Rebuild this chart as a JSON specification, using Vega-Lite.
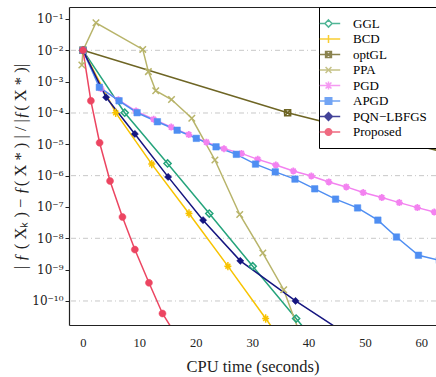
{
  "$schema": "https://vega.github.io/schema/vega-lite/v6.json",
  "autosize": "none",
  "width": 367,
  "height": 318,
  "padding": {"left": 69, "top": 7, "right": 0, "bottom": 52},
  "background": "white",
  "config": {
    "view": {"stroke": null},
    "font": "Liberation Serif"
  },
  "datasets": {
    "series": [
      {"m": "GGL", "t": 0, "v": 1e-2},
      {"m": "GGL", "t": 7.4, "v": 1.02e-4},
      {"m": "GGL", "t": 15.0, "v": 2.45e-6},
      {"m": "GGL", "t": 22.4, "v": 6.17e-8},
      {"m": "GGL", "t": 30.1, "v": 1.29e-9},
      {"m": "GGL", "t": 37.8, "v": 2.75e-11},
      {"m": "GGL", "t": 45.4, "v": 6.31e-13},
      {"m": "BCD", "t": 0, "v": 1e-2},
      {"m": "BCD", "t": 5.8, "v": 1.02e-4},
      {"m": "BCD", "t": 12.2, "v": 2.34e-6},
      {"m": "BCD", "t": 18.8, "v": 6.17e-8},
      {"m": "BCD", "t": 25.7, "v": 1.29e-9},
      {"m": "BCD", "t": 32.4, "v": 2.75e-11},
      {"m": "BCD", "t": 39.0, "v": 6.31e-13},
      {"m": "optGL", "t": 0, "v": 1e-2},
      {"m": "optGL", "t": 36.3, "v": 1.02e-4},
      {"m": "optGL", "t": 72, "v": 2.45e-6},
      {"m": "PPA", "t": -0.2, "v": 3.39e-3},
      {"m": "PPA", "t": 0, "v": 1e-2},
      {"m": "PPA", "t": 2.3, "v": 7.59e-2},
      {"m": "PPA", "t": 10.6, "v": 1.07e-2},
      {"m": "PPA", "t": 11.6, "v": 2.09e-3},
      {"m": "PPA", "t": 12.9, "v": 5.13e-4},
      {"m": "PPA", "t": 15.7, "v": 2.69e-4},
      {"m": "PPA", "t": 19.3, "v": 6.76e-5},
      {"m": "PPA", "t": 23.4, "v": 3.16e-6},
      {"m": "PPA", "t": 27.8, "v": 5.75e-8},
      {"m": "PPA", "t": 31.9, "v": 3.39e-9},
      {"m": "PPA", "t": 35.6, "v": 2.29e-10},
      {"m": "PPA", "t": 39.5, "v": 2.82e-12},
      {"m": "PGD", "t": 0, "v": 1e-2},
      {"m": "PGD", "t": 3.17, "v": 6.03e-4},
      {"m": "PGD", "t": 6.29, "v": 2.63e-4},
      {"m": "PGD", "t": 9.41, "v": 1.15e-4},
      {"m": "PGD", "t": 12.53, "v": 6.31e-5},
      {"m": "PGD", "t": 15.65, "v": 3.55e-5},
      {"m": "PGD", "t": 18.77, "v": 2.04e-5},
      {"m": "PGD", "t": 21.89, "v": 1.17e-5},
      {"m": "PGD", "t": 25.01, "v": 7.24e-6},
      {"m": "PGD", "t": 28.1, "v": 5.13e-6},
      {"m": "PGD", "t": 31.0, "v": 3.31e-6},
      {"m": "PGD", "t": 34.2, "v": 2.19e-6},
      {"m": "PGD", "t": 37.3, "v": 1.41e-6},
      {"m": "PGD", "t": 40.5, "v": 9.77e-7},
      {"m": "PGD", "t": 43.6, "v": 6.31e-7},
      {"m": "PGD", "t": 46.7, "v": 4.37e-7},
      {"m": "PGD", "t": 49.7, "v": 2.88e-7},
      {"m": "PGD", "t": 53.0, "v": 2.00e-7},
      {"m": "PGD", "t": 56.1, "v": 1.38e-7},
      {"m": "PGD", "t": 59.3, "v": 9.55e-8},
      {"m": "PGD", "t": 62.3, "v": 6.92e-8},
      {"m": "PGD", "t": 65.4, "v": 4.90e-8},
      {"m": "APGD", "t": 0, "v": 1e-2},
      {"m": "APGD", "t": 2.9, "v": 6.61e-4},
      {"m": "APGD", "t": 6.4, "v": 2.45e-4},
      {"m": "APGD", "t": 9.6, "v": 1.02e-4},
      {"m": "APGD", "t": 13.2, "v": 5.25e-5},
      {"m": "APGD", "t": 16.7, "v": 2.82e-5},
      {"m": "APGD", "t": 20.1, "v": 1.55e-5},
      {"m": "APGD", "t": 23.6, "v": 8.32e-6},
      {"m": "APGD", "t": 27.2, "v": 4.79e-6},
      {"m": "APGD", "t": 30.6, "v": 2.34e-6},
      {"m": "APGD", "t": 34.1, "v": 1.32e-6},
      {"m": "APGD", "t": 37.6, "v": 7.76e-7},
      {"m": "APGD", "t": 41.1, "v": 3.80e-7},
      {"m": "APGD", "t": 44.8, "v": 1.78e-7},
      {"m": "APGD", "t": 48.7, "v": 9.33e-8},
      {"m": "APGD", "t": 52.3, "v": 3.80e-8},
      {"m": "APGD", "t": 55.6, "v": 1.10e-8},
      {"m": "APGD", "t": 59.5, "v": 2.88e-9},
      {"m": "APGD", "t": 63.2, "v": 2.00e-9},
      {"m": "PQN−LBFGS", "t": 0, "v": 1e-2},
      {"m": "PQN−LBFGS", "t": 4.1, "v": 3.16e-4},
      {"m": "PQN−LBFGS", "t": 9.2, "v": 2.14e-5},
      {"m": "PQN−LBFGS", "t": 15.1, "v": 9.12e-7},
      {"m": "PQN−LBFGS", "t": 21.3, "v": 3.80e-8},
      {"m": "PQN−LBFGS", "t": 27.9, "v": 1.91e-9},
      {"m": "PQN−LBFGS", "t": 37.7, "v": 1.00e-10},
      {"m": "PQN−LBFGS", "t": 47.5, "v": 7.08e-12},
      {"m": "Proposed", "t": 0, "v": 1e-2},
      {"m": "Proposed", "t": 1.4, "v": 2.45e-4},
      {"m": "Proposed", "t": 2.95, "v": 1.12e-5},
      {"m": "Proposed", "t": 4.8, "v": 6.76e-7},
      {"m": "Proposed", "t": 7.0, "v": 4.79e-8},
      {"m": "Proposed", "t": 9.2, "v": 4.37e-9},
      {"m": "Proposed", "t": 11.7, "v": 3.80e-10},
      {"m": "Proposed", "t": 14.1, "v": 3.98e-11},
      {"m": "Proposed", "t": 16.5, "v": 8.13e-12}
    ],
    "grid": [
      {"v": 1e-2}, {"v": 1e-4}, {"v": 1e-6}, {"v": 1e-8}, {"v": 1e-10}
    ]
  },
  "resolve": {"axis": {"x": "independent"}},
  "layer": [
    {
      "data": {"name": "grid"},
      "mark": {"type": "rule", "color": "#c8c8c8", "strokeWidth": 1, "strokeDash": [5, 3, 1, 3]},
      "encoding": {
        "y": {"field": "v", "type": "quantitative",
          "scale": {"type": "log", "domain": [1.71e-11, 0.2415], "nice": false}}
      }
    },
    {
      "data": {"name": "series"},
      "mark": {"type": "line", "strokeWidth": 1.5, "clip": true},
      "encoding": {
        "x": {"field": "t", "type": "quantitative",
          "scale": {"domain": [-2.48, 62.61], "nice": false, "zero": false},
          "axis": {"orient": "bottom", "values": [0, 10, 20, 30, 40, 50, 60], "ticks": false, "grid": false,
            "domain": true, "domainColor": "#222", "domainWidth": 1.2,
            "labelFont": "Liberation Serif", "labelFontSize": 12.5, "labelColor": "#222", "labelPadding": 11,
            "title": "CPU time (seconds)", "titleFont": "Liberation Serif", "titleFontSize": 16.5,
            "titleFontWeight": "normal", "titleColor": "#222", "titlePadding": 10}},
        "y": {"field": "v", "type": "quantitative",
          "scale": {"type": "log", "domain": [1.71e-11, 0.2415], "nice": false},
          "axis": {"values": [1e-1, 1e-2, 1e-3, 1e-4, 1e-5, 1e-6, 1e-7, 1e-8, 1e-9, 1e-10],
            "grid": false, "domain": true, "domainColor": "#222", "domainWidth": 1.2,
            "ticks": true, "tickSize": 4, "tickColor": "#222",
            "labelExpr": "'10⁻' + ['⁰','¹','²','³','⁴','⁵','⁶','⁷','⁸','⁹','¹⁰'][round(-log(datum.value)/LN10)]",
            "labelFont": "DejaVu Serif", "labelFontSize": 12, "labelColor": "#222", "labelPadding": 2,
            "title": "| ƒ ( Xₖ ) − ƒ( X * ) | / |ƒ( X * )|", "titleFont": "Liberation Serif", "titleFontSize": 16.5,
            "titleFontWeight": "normal", "titleColor": "#222", "titlePadding": 3}},
        "color": {"field": "m", "type": "nominal",
          "scale": {"domain": ["GGL", "BCD", "optGL", "PPA", "PGD", "APGD", "PQN−LBFGS", "Proposed"],
            "range": ["#25a47c", "#f8c300", "#6e6524", "#b8b46a", "#f382f0", "#4f8ef2", "#151580", "#ec4561"]},
          "legend": {"orient": "none", "legendX": 250, "legendY": 0, "title": null, "padding": 9,
            "strokeColor": "black", "fillColor": "white", "symbolSize": 169, "symbolOffset": -7,
            "labelFont": "Liberation Serif", "labelFontSize": 13, "labelColor": "black", "labelOffset": 17,
            "rowPadding": 0.5, "symbolStrokeWidth": 1.5, "labelLimit": 200,
            "encode": {"symbols": {"update": {
              "shape": {"signal": "['M-1.35,0H-0.55M0.55,0H1.8M0,-0.55L0.55,0L0,0.55L-0.55,0Z','M-1.35,0H1.8M0,-0.6V0.6','M-1.35,0H1.8M-0.45,-0.45H0.45V0.45H-0.45ZM-0.45,-0.45L0.45,0.45M-0.45,0.45L0.45,-0.45','M-1.35,0H1.8M-0.45,-0.45L0.45,0.45M-0.45,0.45L0.45,-0.45','M-1.35,0H1.8M0,-0.6V0.6M-0.45,-0.45L0.45,0.45M-0.45,0.45L0.45,-0.45','M-1.35,0H1.8M-0.5,-0.5H0.5V0.5H-0.5Z','M-1.35,0H1.8M0,-0.6L0.6,0L0,0.6L-0.6,0Z','M-1.35,0H1.8M0.5,0A0.5,0.5,0,1,1,-0.5,0A0.5,0.5,0,1,1,0.5,0Z'][indexof(['GGL','BCD','optGL','PPA','PGD','APGD','PQN−LBFGS','Proposed'], datum.value)]"},
              "fill": {"signal": "['transparent','transparent','transparent','transparent','transparent','#4f8ef2','#151580','#ec4561'][indexof(['GGL','BCD','optGL','PPA','PGD','APGD','PQN−LBFGS','Proposed'], datum.value)]"},
              "opacity": {"value": 0.8}
            }}}}}
      }
    },
    {
      "data": {"name": "series"},
      "layer": [
        {"transform": [{"filter": "datum.m === 'GGL'"}],
         "mark": {"type": "point", "shape": "M0,-1.1L1.1,0L0,1.1L-1.1,0Z", "filled": false, "fill": "transparent", "stroke": "#25a47c", "strokeWidth": 1.5, "size": 42, "opacity": 1, "clip": true}},
        {"transform": [{"filter": "datum.m === 'BCD'"}],
         "mark": {"type": "point", "shape": "M-1,0H1M0,-1.2V1.2M-0.7,-0.7L0.7,0.7M-0.7,0.7L0.7,-0.7", "filled": false, "fill": "transparent", "stroke": "#f8c300", "strokeWidth": 1.5, "size": 49, "opacity": 1, "clip": true}},
        {"transform": [{"filter": "datum.m === 'optGL'"}],
         "mark": {"type": "point", "shape": "M-1,-1H1V1H-1ZM-1,-1L1,1M-1,1L1,-1", "filled": false, "fill": "transparent", "stroke": "#6e6524", "strokeWidth": 1.5, "size": 36, "opacity": 1, "clip": true}},
        {"transform": [{"filter": "datum.m === 'PPA'"}],
         "mark": {"type": "point", "shape": "M-1,-1L1,1M-1,1L1,-1", "filled": false, "fill": "transparent", "stroke": "#b8b46a", "strokeWidth": 1.5, "size": 42, "opacity": 1, "clip": true}},
        {"transform": [{"filter": "datum.m === 'PGD'"}],
         "mark": {"type": "point", "shape": "M-1,0H1M0,-1V1M-0.7,-0.7L0.7,0.7M-0.7,0.7L0.7,-0.7", "filled": false, "fill": "transparent", "stroke": "#f382f0", "strokeWidth": 1.8, "size": 49, "opacity": 1, "clip": true}},
        {"transform": [{"filter": "datum.m === 'APGD'"}],
         "mark": {"type": "point", "shape": "M-1,-1H1V1H-1Z", "filled": true, "fill": "#4f8ef2", "stroke": "#4f8ef2", "strokeWidth": 0.5, "size": 42, "opacity": 1, "clip": true}},
        {"transform": [{"filter": "datum.m === 'PQN−LBFGS'"}],
         "mark": {"type": "point", "shape": "M0,-1.2L1.2,0L0,1.2L-1.2,0Z", "filled": true, "fill": "#151580", "stroke": "#151580", "strokeWidth": 0.5, "size": 36, "opacity": 1, "clip": true}},
        {"transform": [{"filter": "datum.m === 'Proposed'"}],
         "mark": {"type": "point", "shape": "M1,0A1,1,0,1,1,-1,0A1,1,0,1,1,1,0Z", "filled": true, "fill": "#ec4561", "stroke": "#ec4561", "strokeWidth": 0.5, "size": 49, "opacity": 1, "clip": true}}
      ],
      "encoding": {
        "x": {"field": "t", "type": "quantitative",
          "scale": {"domain": [-2.48, 62.61], "nice": false, "zero": false},
          "axis": {"orient": "top", "labels": false, "ticks": false, "grid": false, "domain": true,
            "domainColor": "#222", "domainWidth": 1.2, "title": null}},
        "y": {"field": "v", "type": "quantitative",
          "scale": {"type": "log", "domain": [1.71e-11, 0.2415], "nice": false}}
      }
    }
  ]
}
